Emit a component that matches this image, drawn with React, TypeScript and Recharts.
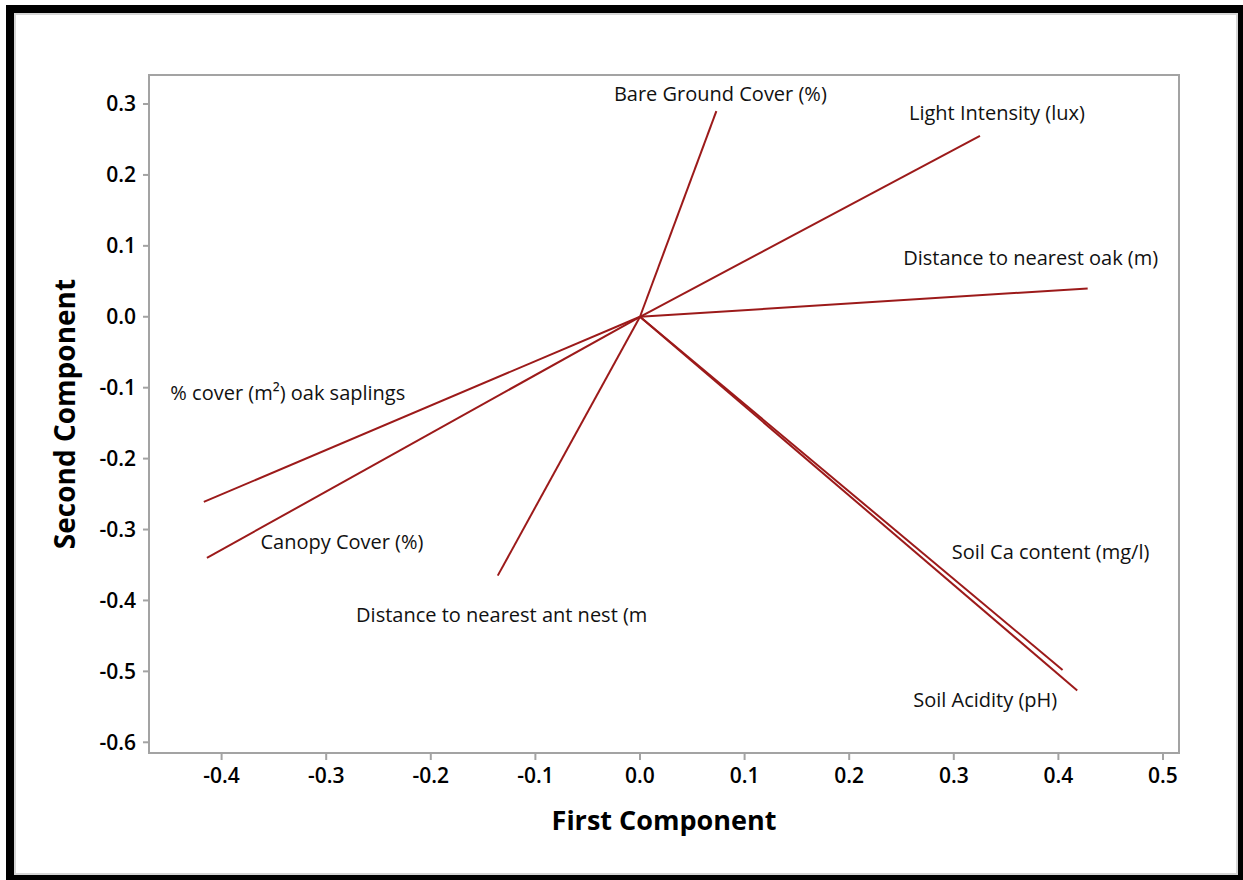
import { ScatterChart, Scatter, XAxis, YAxis, ReferenceArea, Label } from 'recharts';

// PCA loading vectors: first vs second component
const variables = [
  'Bare Ground Cover (%)',
  'Light Intensity (lux)',
  'Distance to nearest oak (m)',
  'Soil Ca content (mg/l)',
  'Soil Acidity (pH)',
  'Distance to nearest ant nest (m',
  'Canopy Cover (%)',
  '% cover (m²) oak saplings',
];
const firstComponent = [0.073, 0.325, 0.428, 0.404, 0.418, -0.136, -0.414, -0.417];
const secondComponent = [0.29, 0.255, 0.04, -0.498, -0.527, -0.365, -0.34, -0.261];

const xTicks = [-0.4, -0.3, -0.2, -0.1, 0, 0.1, 0.2, 0.3, 0.4, 0.5];
const yTicks = [0.3, 0.2, 0.1, 0, -0.1, -0.2, -0.3, -0.4, -0.5, -0.6];

// label placement relative to each vector tip (px): [dx, dy]
const labelOffsets: [number, number][] = [
  [4, -10], [17, -16], [-57, -23], [-12, -111],
  [-92, 16], [4, 46], [135, -9], [84, -102],
];

const X_DOMAIN: [number, number] = [-0.4694, 0.5153];
const Y_DOMAIN: [number, number] = [-0.6151, 0.3409];
const LINE = '#9c1a1a';
const FONT = '"Open Sans", "Noto Sans", sans-serif';

const vectors = variables.map((name, i) => ({
  name,
  data: [
    { x: 0, y: 0, tip: false },
    { x: firstComponent[i], y: secondComponent[i], tip: true },
  ],
  offset: labelOffsets[i],
}));

const fmt = (v: number) => v.toFixed(1);

export default function App() {
  return (
    <div style={{ position: 'fixed', left: 0, top: 0, width: 1243, height: 880, overflow: 'hidden', background: '#fff' }}>
      <div style={{ position: 'absolute', left: 6, top: 5, width: 1240, height: 878, border: '8px solid #000', boxSizing: 'border-box' }}>
        <div style={{ width: '100%', height: '100%', border: '2px solid #d6d6d6', boxSizing: 'border-box' }} />
      </div>
      <div style={{ position: 'absolute', left: 0, top: 0 }}>
        <ScatterChart width={1243} height={880} margin={{ top: 75, right: 64, left: 0, bottom: 0 }}>
          <XAxis
            type="number"
            dataKey="x"
            domain={X_DOMAIN}
            ticks={xTicks}
            tickFormatter={fmt}
            allowDataOverflow
            height={127}
            axisLine={{ stroke: '#a3a3a3', strokeWidth: 2 }}
            tickLine={{ stroke: '#a3a3a3', strokeWidth: 2 }}
            tickSize={7}
            tickMargin={8}
            tick={{ fill: '#000', fontSize: 21, fontWeight: 600, fontFamily: FONT }}
          >
            <Label
              value="First Component"
              position="insideTop"
              offset={58}
              style={{ fill: '#000', fontSize: 27, fontWeight: 700, fontFamily: FONT }}
            />
          </XAxis>
          <YAxis
            type="number"
            dataKey="y"
            domain={Y_DOMAIN}
            ticks={yTicks}
            tickFormatter={fmt}
            allowDataOverflow
            width={149}
            axisLine={{ stroke: '#a3a3a3', strokeWidth: 2 }}
            tickLine={{ stroke: '#a3a3a3', strokeWidth: 2 }}
            tickSize={6}
            tickMargin={7}
            tick={{ fill: '#000', fontSize: 21, fontWeight: 600, fontFamily: FONT }}
          >
            <Label
              value="Second Component"
              angle={-90}
              position="insideLeft"
              offset={65}
              style={{ textAnchor: 'middle', fill: '#000', fontSize: 28, fontWeight: 700, fontFamily: FONT }}
            />
          </YAxis>
          <ReferenceArea
            x1={X_DOMAIN[0]}
            x2={X_DOMAIN[1]}
            y1={Y_DOMAIN[0]}
            y2={Y_DOMAIN[1]}
            fill="none"
            stroke="#a3a3a3"
            strokeWidth={2}
          />
          {vectors.map((v) => (
            <Scatter
              key={v.name}
              data={v.data}
              line={{ stroke: LINE, strokeWidth: 2 }}
              isAnimationActive={false}
              shape={(p: any) =>
                p.payload?.tip ? (
                  <text
                    x={p.cx + v.offset[0]}
                    y={p.cy + v.offset[1]}
                    textAnchor="middle"
                    fontSize={20}
                    fontFamily={FONT}
                    fill="#111"
                  >
                    {v.name}
                  </text>
                ) : (
                  <g />
                )
              }
            />
          ))}
        </ScatterChart>
      </div>
    </div>
  );
}
